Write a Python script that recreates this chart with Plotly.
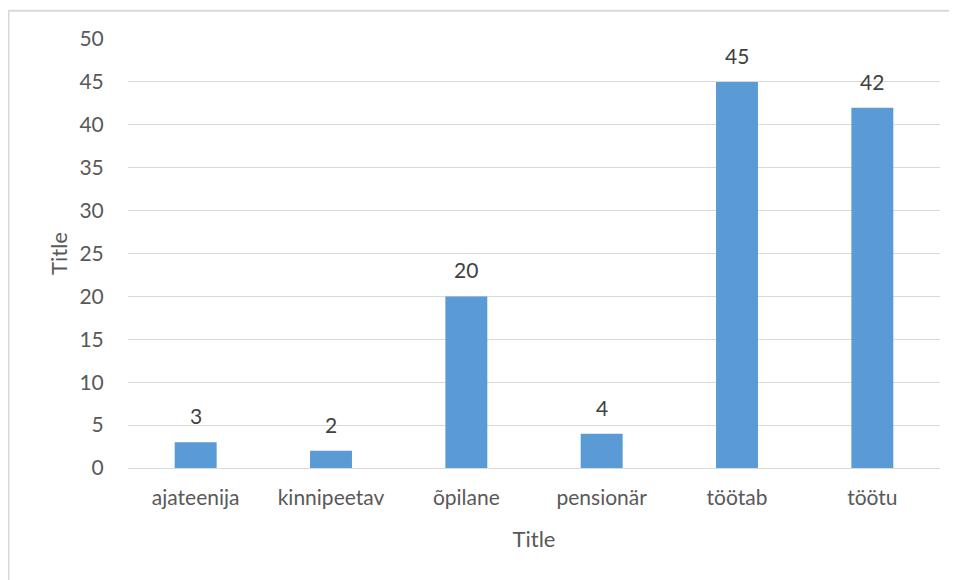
import plotly.graph_objects as go

categories = ["ajateenija", "kinnipeetav", "õpilane", "pensionär", "töötab", "töötu"]
values = [3, 2, 20, 4, 45, 42]
y_ticks = [0, 5, 10, 15, 20, 25, 30, 35, 40, 45, 50]

bar_color = "#5B9BD5"
grid_color = "#D9D9D9"
text_color = "#595959"
font_family = "Lato, Open Sans, sans-serif"

# page has an 8px body margin, so the figure is offset by 8px
W, H = 957, 580
off = 8
left, right, top, bottom = 128 - off, 940 - off, 38.7 - off, 468 - off

fig = go.Figure()
fig.add_trace(go.Bar(
    x=categories,
    y=values,
    marker=dict(color=bar_color, line=dict(width=0)),
))

# value labels above the bars
for cat, val in zip(categories, values):
    fig.add_annotation(
        x=cat, y=val, text=str(val), showarrow=False,
        yanchor="bottom", yshift=12,
        font=dict(size=21, color="#404040", family=font_family),
    )

pw, ph = right - left, bottom - top
fig.add_shape(
    type="rect", xref="paper", yref="paper",
    x0=(0.5 - left) / pw, x1=(W + 5 - left) / pw,
    y0=(bottom - (H + 5)) / ph, y1=(bottom - 2.5) / ph,
    line=dict(color=grid_color, width=2), fillcolor="rgba(0,0,0,0)", layer="below",
)

fig.update_layout(
    width=W, height=H,
    margin=dict(l=left, r=W - right, t=top, b=H - bottom, pad=0),
    plot_bgcolor="white", paper_bgcolor="white",
    font=dict(family=font_family, color=text_color, size=21),
    bargap=0.69,
    showlegend=False,
    xaxis=dict(
        title=dict(text="Title", font=dict(size=22, color=text_color), standoff=23),
        showline=True, linecolor=grid_color, linewidth=1,
        showgrid=False, tickfont=dict(size=21, color=text_color),
        ticks="outside", ticklen=11, tickcolor="rgba(0,0,0,0)",
    ),
    yaxis=dict(
        title=dict(text="Title", font=dict(size=22, color=text_color), standoff=5),
        range=[0, 50], tickvals=y_ticks,
        showgrid=True, gridcolor=grid_color, gridwidth=1,
        zeroline=False, showline=False,
        tickfont=dict(size=21, color=text_color),
        ticks="outside", ticklen=19, tickcolor="rgba(0,0,0,0)",
    ),
)

fig.write_html("out.html")
